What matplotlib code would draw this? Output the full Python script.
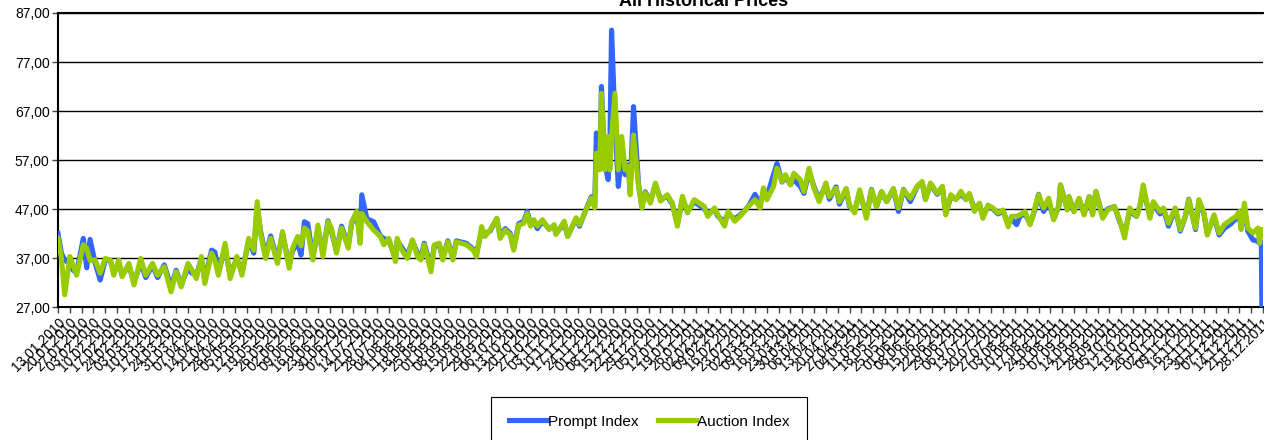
import pandas as pd
import matplotlib.pyplot as plt
from matplotlib.ticker import FuncFormatter

plt.rcParams['font.family'] = ['Liberation Sans', 'DejaVu Sans']

# days counted from 13.01.2010
day = [0, 2, 4, 7, 9, 11, 15, 17, 19, 22, 25, 28, 31, 33, 36, 38, 42, 45, 49, 52,
       56, 59, 63, 67, 70, 73, 77, 79, 82, 85, 87, 91, 93, 95, 99, 102, 106, 109, 113, 116,
       118, 120, 123, 126, 130, 133,
       137, 139, 142, 144, 146, 148, 151, 154, 157, 160,
       162, 165, 168, 172, 174, 177, 179, 180, 183, 187,
       191, 193, 196, 200, 201, 203, 207, 210, 213, 215,
       217, 221, 223, 226, 228, 231, 234, 236, 242, 246,
       248, 251, 253, 256, 260, 262, 265, 268, 270, 273,
       276, 278, 280, 282, 284, 287, 291, 294, 295, 300,
       302, 307, 309, 313, 316, 318, 319, 321, 322, 324,
       326, 327, 328, 330, 332, 334, 336, 338, 339, 341,
       344, 346, 348, 351, 354, 357, 361, 364, 367, 370,
       373, 377, 383, 385, 389, 391, 395, 397, 401, 405,
       409, 413, 416, 418, 420, 424, 426, 429, 431, 434,
       436, 440, 442, 445, 448, 451, 455, 457, 461, 463,
       467, 469, 472, 475, 479, 482, 485, 488, 491, 495,
       498, 501, 505, 509, 512, 514, 517, 521, 524, 526,
       529, 532, 535, 538, 540, 543, 546, 548, 551, 554,
       557, 560, 563, 565, 568, 570, 573, 576, 579, 581,
       584, 587, 590, 593, 594, 598, 599, 602, 605, 608,
       611, 613, 615, 619, 622, 626, 629, 632, 635, 639,
       641, 643, 647, 649, 653, 655, 658, 662, 665, 668,
       670, 674, 676, 679, 681, 685, 688, 691, 695, 698,
       700, 701, 703, 705, 708, 711, 712, 713, 714]

prompt_index = [42.0, 38.0, 36.5, 36.0, 34.5, 34.0, 41.0, 35.0, 40.8, 36.0,
                32.5, 36.6, 36.5, 34.0, 36.0, 33.5, 35.5, 32.0, 36.0, 33.0,
                35.5, 33.0, 35.6, 31.0, 34.5, 31.5, 35.0, 34.0, 33.5, 37.0,
                32.5, 38.6, 38.2, 34.0, 39.0, 33.5, 37.0, 34.0, 40.5, 38.0,
                47.5, 42.5, 37.5, 41.5, 36.5, 42.0,
                35.5, 38.5, 40.0, 37.6, 44.4, 44.0, 37.0, 43.0, 38.0, 44.6,
                42.5, 38.5, 43.5, 39.5, 44.0, 46.0, 41.0, 49.9, 45.0, 44.4,
                41.5, 41.0, 40.5, 37.0, 40.5, 39.5, 37.5, 40.5, 38.0, 37.0,
                40.0, 35.0, 39.5, 39.5, 37.0, 40.5, 37.0, 40.5, 40.0, 38.8,
                38.0, 42.5, 42.0, 42.5, 45.0, 41.5, 43.0, 42.0, 39.0, 44.0,
                44.5, 46.5, 44.0, 44.5, 43.0, 44.5, 43.0, 43.5, 42.0, 44.0,
                41.5, 45.0, 43.5, 47.0, 49.5, 47.5, 62.5, 56.0, 72.0, 56.0,
                53.0, 60.0, 83.5, 65.0, 51.6, 58.0, 54.0, 56.0, 50.5, 67.9,
                52.0, 47.5, 50.5, 48.5, 52.0, 49.0, 49.5, 48.0, 44.0, 49.0,
                46.5, 48.5, 47.0, 46.0, 47.0, 45.5, 44.5, 46.0, 45.0, 46.0,
                47.5, 50.0, 48.0, 50.5, 49.5, 54.0, 56.3, 52.5, 53.5, 52.0,
                53.0, 51.5, 50.2, 54.5, 51.5, 49.0, 52.0, 49.0, 51.5, 48.0,
                51.0, 47.5, 46.5, 50.5, 45.5, 51.0, 47.5, 50.5, 48.5, 51.0,
                46.5, 51.0, 48.5, 51.5, 52.5, 49.0, 52.0, 50.0, 51.5, 46.0,
                49.5, 49.0, 50.0, 49.0, 50.0, 47.0, 48.0, 45.5, 47.5, 47.0,
                46.0, 46.5, 44.0, 45.0, 43.8, 45.5, 46.0, 44.0, 47.0, 50.0,
                46.5, 48.5, 45.0, 47.5, 51.9, 47.0, 49.5, 46.5, 49.0, 46.0,
                49.5, 46.0, 50.5, 45.5, 47.0, 47.5, 44.5, 42.0, 46.5, 45.5,
                47.5, 51.0, 45.5, 48.0, 46.0, 47.0, 43.5, 47.0, 42.5, 45.5,
                49.0, 42.8, 48.5, 46.0, 42.0, 45.5, 41.7, 43.0, 44.0, 45.0,
                46.0, 43.0, 47.0, 42.5, 40.7, 40.4, 40.0, 40.2, 0.0]

auction_index = [41.0, 37.0, 29.5, 37.3, 35.5, 33.5, 39.7, 39.0, 36.5, 36.6,
                 33.9, 36.9, 36.6, 33.5, 36.6, 33.2, 35.9, 31.5, 36.9, 33.5,
                 35.9, 33.5, 35.2, 30.1, 34.2, 31.1, 35.9, 34.8, 32.8, 37.3,
                 31.8, 38.0, 36.5, 33.5, 40.0, 32.8, 37.3, 33.5, 41.0, 38.6,
                 48.5, 42.0, 36.9, 41.0, 35.9, 42.4,
                 34.9, 39.0, 41.4, 39.5, 43.1, 42.5, 36.6, 43.7, 37.3, 44.4,
                 43.1, 38.0, 43.1, 39.0, 44.4, 46.5, 40.0, 46.1, 44.4, 42.7,
                 41.4, 39.7, 41.0, 36.3, 41.0, 39.0, 36.9, 40.7, 37.3, 36.6,
                 39.7, 34.2, 39.7, 40.0, 36.6, 40.3, 36.6, 40.3, 39.7, 38.6,
                 37.3, 43.4, 41.4, 42.7, 45.1, 41.0, 42.7, 41.7, 38.6, 43.7,
                 44.1, 46.1, 43.5, 44.8, 43.5, 44.8, 42.8, 43.8, 41.8, 44.5,
                 41.4, 45.2, 43.8, 46.9, 49.2, 47.2, 58.4, 55.0, 70.6, 55.0,
                 61.8, 55.0, 61.8, 70.6, 55.0, 61.8, 55.0, 55.7, 49.9, 62.1,
                 51.6, 47.2, 50.3, 48.2, 52.3, 48.6, 49.9, 48.2, 43.5, 49.6,
                 46.2, 48.9, 47.5, 45.5, 47.2, 45.8, 43.5, 46.5, 44.5, 45.8,
                 47.5, 48.9, 47.2, 51.3, 48.9, 51.6, 55.3, 52.6, 54.0, 51.9,
                 54.3, 52.9, 50.6, 55.3, 51.2, 48.5, 52.3, 49.5, 51.2, 48.5,
                 51.2, 47.8, 46.2, 50.9, 45.1, 50.9, 47.5, 50.6, 48.5, 51.2,
                 47.2, 50.9, 49.2, 51.6, 52.6, 48.9, 52.3, 50.2, 51.6, 45.8,
                 49.9, 48.9, 50.6, 48.9, 50.2, 46.5, 48.2, 45.1, 47.8, 47.2,
                 46.2, 46.8, 43.4, 45.5, 45.5, 45.8, 46.5, 43.8, 47.5, 49.9,
                 47.2, 49.2, 44.8, 47.8, 51.9, 46.8, 49.5, 46.5, 49.2, 45.8,
                 49.5, 45.8, 50.6, 45.1, 46.8, 47.5, 44.8, 41.1, 47.2, 45.5,
                 47.5, 51.9, 45.1, 48.5, 46.5, 47.2, 44.1, 47.2, 42.8, 45.5,
                 48.9, 43.1, 48.9, 46.2, 41.7, 45.8, 42.1, 43.8, 44.8, 45.5,
                 46.5, 42.8, 48.2, 43.1, 42.1, 43.1, 40.0, 42.8, 42.8]

y_ticks = [27, 37, 47, 57, 67, 77, 87]
tick_dates = pd.date_range('2010-01-13', '2011-12-28', freq='7D')
tick_labels = [d.strftime('%d.%m.%Y') for d in tick_dates]

dates = (pd.Timestamp('2010-01-13') + pd.to_timedelta(day, unit='D')).to_pydatetime()

fig = plt.figure(figsize=(12.64, 4.4), dpi=100)
ax = fig.add_axes([58 / 1264, 1 - 307 / 440, 1205 / 1264, 294 / 440])

ax.plot(dates, prompt_index, color='#3366ff', lw=3.7, label='Prompt Index', zorder=3)
ax.plot(dates, auction_index, color='#99cc00', lw=3.7, label='Auction Index', zorder=4)

ax.set_ylim(27, 87)
ax.set_xlim(dates[0], dates[-1])
ax.set_yticks(y_ticks)
ax.yaxis.set_major_formatter(FuncFormatter(lambda v, p: f'{v:.2f}'.replace('.', ',')))
ax.set_xticks(tick_dates.to_pydatetime())
ax.set_xticklabels(tick_labels, rotation=45, ha='right', rotation_mode='anchor')
ax.tick_params(axis='both', labelsize=10, length=4, width=1, color='#444444', pad=2)

ax.grid(axis='y', color='black', lw=1)
ax.set_axisbelow(True)
for side in ['top', 'left', 'bottom']:
    ax.spines[side].set_linewidth(1.5)
    ax.spines[side].set_color('black')
ax.spines['right'].set_visible(False)

fig.text(704 / 1264, 1 - 6 / 440, 'All Historical Prices', ha='center', va='baseline',
         fontsize=13, fontweight='bold')

leg = fig.legend(loc='upper center', bbox_to_anchor=(649 / 1264, 1 - 397 / 440), ncol=2,
                 borderaxespad=0, fancybox=False, edgecolor='black', framealpha=1, fontsize=11,
                 handlelength=2.5, handletextpad=0.05, columnspacing=1.3, borderpad=1.15)
leg.get_frame().set_linewidth(0.8)

fig.savefig('out.png', dpi=100)
